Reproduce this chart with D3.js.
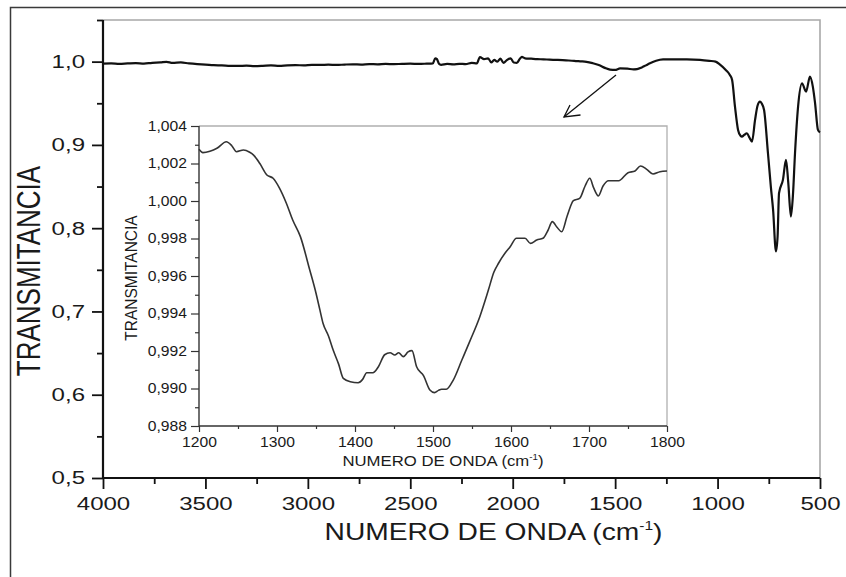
<!DOCTYPE html>
<html>
<head>
<meta charset="utf-8">
<script src="https://cdn.jsdelivr.net/npm/d3@7"></script>
<style>
  html, body { margin: 0; padding: 0; background: #fff; }
  svg { display: block; }
  text { font-family: "Liberation Sans", Arial, sans-serif; fill: #1a1a1a; }
</style>
</head>
<body>
<svg id="chart" width="846" height="577"></svg>
<script>
// FTIR spectrum, full range (cm^-1, transmittance)
const mainWavenumber = [
  4000, 3960, 3920, 3880, 3840, 3800, 3760, 3720, 3690, 3660, 3620, 3580, 3540, 3500,
  3460, 3420, 3380, 3340, 3300, 3260, 3220, 3180, 3140, 3100, 3060, 3020, 2980, 2940,
  2900, 2860, 2820, 2780, 2740, 2700, 2660, 2620, 2580, 2540, 2500, 2460, 2420, 2390,
  2378, 2370, 2360, 2350, 2320, 2290, 2260, 2230, 2200, 2175, 2160, 2140, 2120, 2105,
  2090, 2075, 2060, 2045, 2030, 2010, 1995, 1980, 1965, 1955, 1940, 1910, 1880, 1850,
  1820, 1780, 1740, 1700, 1670, 1640, 1610, 1580, 1550, 1525, 1500, 1476, 1440, 1410,
  1393, 1370, 1350, 1330, 1300, 1266, 1220, 1150, 1086, 1040, 1010, 988, 960, 940,
  929, 915, 900, 888, 881, 870, 857, 845, 832, 817, 805, 793, 785, 773, 754, 740,
  729, 715, 707, 700, 681, 666, 655, 642, 632, 622, 607, 588, 568, 549, 535, 524,
  510, 500
];
const mainTransmittance = [
  0.9975, 0.9980, 0.9972, 0.9978, 0.9983, 0.9976, 0.9986, 0.9990, 0.9998, 0.9985, 0.9990, 0.9978, 0.9970, 0.9965,
  0.9958, 0.9955, 0.9950, 0.9948, 0.9952, 0.9947, 0.9950, 0.9955, 0.9950, 0.9956, 0.9958, 0.9955, 0.9962, 0.9960,
  0.9963, 0.9960, 0.9965, 0.9968, 0.9965, 0.9970, 0.9968, 0.9972, 0.9970, 0.9973, 0.9975, 0.9972, 0.9976, 0.9980,
  1.0040, 1.0030, 0.9975, 0.9962, 0.9972, 0.9968, 0.9974, 0.9970, 0.9985, 0.9980, 1.0055, 1.0030, 1.0040, 0.9990,
  1.0020, 1.0000, 1.0035, 0.9985, 1.0015, 1.0040, 0.9990, 0.9985, 1.0035, 1.0056, 1.0040, 1.0035, 1.0030, 1.0028,
  1.0024, 1.0020, 1.0015, 1.0010, 1.0004, 0.9998, 0.9982, 0.9960, 0.9925, 0.9904, 0.9900, 0.9918, 0.9915, 0.9908,
  0.9910, 0.9930, 0.9955, 0.9980, 1.0010, 1.0026, 1.0028, 1.0028, 1.0022, 1.0010, 1.0000, 0.9964, 0.9900, 0.9840,
  0.9780, 0.9460, 0.9180, 0.9110, 0.9100, 0.9120, 0.9140, 0.9090, 0.9040, 0.9300, 0.9470, 0.9520, 0.9500, 0.9420, 0.8900, 0.8500,
  0.8220, 0.7720, 0.7900, 0.8420, 0.8580, 0.8820, 0.8550, 0.8140, 0.8400, 0.8900, 0.9460, 0.9740, 0.9640, 0.9820, 0.9700, 0.9500,
  0.9180, 0.9150
];

// Zoomed region 1200-1800 cm^-1
const insetWavenumber = [
  1200, 1205, 1214, 1223, 1235, 1242, 1248, 1257, 1265, 1270, 1278, 1287, 1295, 1303,
  1312, 1320, 1330, 1342, 1349, 1355, 1359, 1366, 1372, 1379, 1385, 1394, 1404, 1410,
  1415, 1423, 1430, 1438, 1445, 1451, 1456, 1462, 1468, 1473, 1479, 1488, 1496, 1502,
  1507, 1511, 1517, 1526, 1537, 1547, 1560, 1571, 1578, 1584, 1592, 1599, 1607, 1618,
  1625, 1633, 1641, 1647, 1653, 1659, 1665, 1672, 1680, 1688, 1695, 1701, 1706, 1712,
  1718, 1725, 1738, 1750, 1759, 1766, 1774, 1782, 1791, 1800
];
const insetTransmittance = [
  1.00276, 1.00258, 1.00265, 1.00281, 1.00316, 1.00295, 1.00263, 1.00272, 1.00260, 1.00245, 1.00200, 1.00139, 1.00121, 1.00070,
  0.99988, 0.99900, 0.99810, 0.99632, 0.99525, 0.99419, 0.99348, 0.99280, 0.99205, 0.99130, 0.99054, 0.99036, 0.99031, 0.99050,
  0.99084, 0.99084, 0.99116, 0.99180, 0.99191, 0.99179, 0.99191, 0.99170, 0.99195, 0.99202, 0.99116, 0.99067, 0.98992, 0.98978,
  0.98990, 0.98996, 0.98996, 0.99045, 0.99152, 0.99250, 0.99383, 0.99525, 0.99620, 0.99668, 0.99720, 0.99756, 0.99801, 0.99801,
  0.99774, 0.99792, 0.99801, 0.99840, 0.99890, 0.99860, 0.99836, 0.99920, 1.00002, 1.00014, 1.00080, 1.00121, 1.00070, 1.00027,
  1.00080, 1.00108, 1.00108, 1.00151, 1.00160, 1.00187, 1.00169, 1.00144, 1.00156, 1.00160
];

// Axis ticks
const mainXMajor = [4000, 3500, 3000, 2500, 2000, 1500, 1000, 500];
const mainXMinor = [3750, 3250, 2750, 2250, 1750, 1250, 750];
const mainYMajor = [0.5, 0.6, 0.7, 0.8, 0.9, 1.0];
const mainYMinor = [0.55, 0.65, 0.75, 0.85, 0.95, 1.05];
const insetXMajor = [1200, 1300, 1400, 1500, 1600, 1700, 1800];
const insetXMinor = [1250, 1350, 1450, 1550, 1650, 1750];
const insetYMajor = [0.988, 0.990, 0.992, 0.994, 0.996, 0.998, 1.000, 1.002, 1.004];
const insetYMinor = [0.989, 0.991, 0.993, 0.995, 0.997, 0.999, 1.001, 1.003];

const xTitle = "NUMERO DE ONDA (cm";
const yTitle = "TRANSMITANCIA";

const comma = d3.formatLocale({ decimal: ",", thousands: ".", grouping: [3], currency: ["", ""] });

const svg = d3.select("#chart");

// Outer frame of the figure
svg.append("rect")
  .attr("x", 10.5).attr("y", 7.5).attr("width", 900).attr("height", 700)
  .attr("fill", "none").attr("stroke", "#3a3a3a").attr("stroke-width", 1.5);

// ---------- Main panel ----------
const M = { left: 103, right: 820, top: 20, bottom: 478 };
const x = d3.scaleLinear().domain([4000, 500]).range([M.left, M.right]);
const y = d3.scaleLinear().domain([0.5, 1.05]).range([M.bottom, M.top]);

// light top / right frame lines
svg.append("path")
  .attr("d", `M${M.left},${M.top}H${M.right}V${M.bottom}`)
  .attr("fill", "none").attr("stroke", "#a8a8a8").attr("stroke-width", 1.6);

function stretchText(sel, sx, anchorX) {
  sel.each(function () {
    const t = d3.select(this);
    const xv = +t.attr("x") || 0;
    t.attr("x", xv / sx).attr("transform", `scale(${sx},1)`);
  });
}

const gMinorX = svg.append("g").attr("transform", `translate(0,${M.bottom})`)
  .call(d3.axisBottom(x).tickValues(mainXMinor).tickSize(6).tickFormat(""));
const gMajorX = svg.append("g").attr("transform", `translate(0,${M.bottom})`)
  .call(d3.axisBottom(x).tickValues(mainXMajor).tickSize(11).tickSizeOuter(0).tickPadding(8).tickFormat(d3.format("d")));
const gMinorY = svg.append("g").attr("transform", `translate(${M.left},0)`)
  .call(d3.axisLeft(y).tickValues(mainYMinor).tickSize(6).tickFormat(""));
const gMajorY = svg.append("g").attr("transform", `translate(${M.left},0)`)
  .call(d3.axisLeft(y).tickValues(mainYMajor).tickSize(11).tickSizeOuter(0).tickPadding(7).tickFormat(comma.format(".1f")));

[gMinorX, gMinorY].forEach(g => g.select(".domain").remove());
[gMinorX, gMajorX, gMinorY, gMajorY].forEach(g => {
  g.selectAll(".tick line").attr("stroke", "#111").attr("stroke-width", 1.8);
});
[gMajorX, gMajorY].forEach(g => {
  g.select(".domain").attr("stroke", "#111").attr("stroke-width", 2.2);
  g.selectAll(".tick text").attr("font-size", 18.5).attr("fill", "#1a1a1a")
    .attr("font-family", "Liberation Sans, Arial, sans-serif");
});
gMajorY.select(".domain").attr("d", `M0,${M.bottom}V${M.top}`);
gMajorX.select(".domain").attr("d", `M${M.left},0H${M.right}`);
stretchText(gMajorX.selectAll(".tick text"), 1.3);
stretchText(gMajorY.selectAll(".tick text"), 1.3);

// spectrum line
const mainData = mainWavenumber.map((w, i) => [w, mainTransmittance[i]]);
svg.append("path")
  .datum(mainData)
  .attr("fill", "none").attr("stroke", "#111").attr("stroke-width", 2.2)
  .attr("stroke-linejoin", "round")
  .attr("d", d3.line().x(d => x(d[0])).y(d => y(d[1])).curve(d3.curveMonotoneX));

// axis titles
const xt = svg.append("text")
  .attr("transform", `translate(${(M.left + M.right) / 2 + 32},540) scale(1.2,1)`)
  .attr("text-anchor", "middle").attr("font-size", 23.5);
xt.append("tspan").text(xTitle);
xt.append("tspan").attr("font-size", 13).attr("dy", -10).text("-1");
xt.append("tspan").attr("dy", 10).text(")");

svg.append("text")
  .attr("transform", `translate(40,271) scale(1.25,1) rotate(-90)`)
  .attr("text-anchor", "middle").attr("font-size", 26)
  .text(yTitle);

// pointer arrow towards the inset
const arrow = svg.append("g").attr("stroke", "#111").attr("stroke-width", 1.3).attr("fill", "none");
arrow.append("line").attr("x1", 616).attr("y1", 75).attr("x2", 564).attr("y2", 117);
arrow.append("path").attr("d", "M570,105 L564,117 L580.5,115");

// ---------- Inset panel ----------
const I = { left: 199, right: 667, top: 126, bottom: 426 };
const xi = d3.scaleLinear().domain([1200, 1800]).range([I.left, I.right]);
const yi = d3.scaleLinear().domain([0.988, 1.004]).range([I.bottom, I.top]);

svg.append("path")
  .attr("d", `M${I.left},${I.top}H${I.right}V${I.bottom}`)
  .attr("fill", "none").attr("stroke", "#b0b0b0").attr("stroke-width", 1.3);

const iMinorX = svg.append("g").attr("transform", `translate(0,${I.bottom})`)
  .call(d3.axisBottom(xi).tickValues(insetXMinor).tickSize(3).tickFormat(""));
const iMajorX = svg.append("g").attr("transform", `translate(0,${I.bottom})`)
  .call(d3.axisBottom(xi).tickValues(insetXMajor).tickSize(6).tickSizeOuter(0).tickPadding(5).tickFormat(d3.format("d")));
const iMinorY = svg.append("g").attr("transform", `translate(${I.left},0)`)
  .call(d3.axisLeft(yi).tickValues(insetYMinor).tickSize(4).tickFormat(""));
const iMajorY = svg.append("g").attr("transform", `translate(${I.left},0)`)
  .call(d3.axisLeft(yi).tickValues(insetYMajor).tickSize(8).tickSizeOuter(0).tickPadding(4).tickFormat(comma.format(".3f")));

[iMinorX, iMinorY].forEach(g => g.select(".domain").remove());
[iMinorX, iMajorX, iMinorY, iMajorY].forEach(g => {
  g.selectAll(".tick line").attr("stroke", "#333").attr("stroke-width", 1.2);
});
[iMajorX, iMajorY].forEach(g => {
  g.select(".domain").attr("stroke", "#333").attr("stroke-width", 1.4);
  g.selectAll(".tick text").attr("font-size", 14).attr("fill", "#333")
    .attr("font-family", "Liberation Sans, Arial, sans-serif");
});
iMajorY.select(".domain").attr("d", `M0,${I.bottom}V${I.top}`);
iMajorX.select(".domain").attr("d", `M${I.left},0H${I.right}`);
stretchText(iMajorX.selectAll(".tick text"), 1.12);
stretchText(iMajorY.selectAll(".tick text"), 1.12);

const insetData = insetWavenumber.map((w, i) => [w, insetTransmittance[i]]);
svg.append("path")
  .datum(insetData)
  .attr("fill", "none").attr("stroke", "#333").attr("stroke-width", 1.6)
  .attr("stroke-linejoin", "round")
  .attr("d", d3.line().x(d => xi(d[0])).y(d => yi(d[1])).curve(d3.curveMonotoneX));

const ixt = svg.append("text")
  .attr("transform", `translate(${(I.left + I.right) / 2 + 10},466) scale(1.08,1)`)
  .attr("text-anchor", "middle").attr("font-size", 15.5).attr("fill", "#333");
ixt.append("tspan").text(xTitle);
ixt.append("tspan").attr("font-size", 9).attr("dy", -6).text("-1");
ixt.append("tspan").attr("dy", 6).text(")");

svg.append("text")
  .attr("transform", `translate(137,278) scale(1.08,1) rotate(-90)`)
  .attr("text-anchor", "middle").attr("font-size", 15.5).attr("fill", "#333")
  .text(yTitle);
</script>
</body>
</html>
